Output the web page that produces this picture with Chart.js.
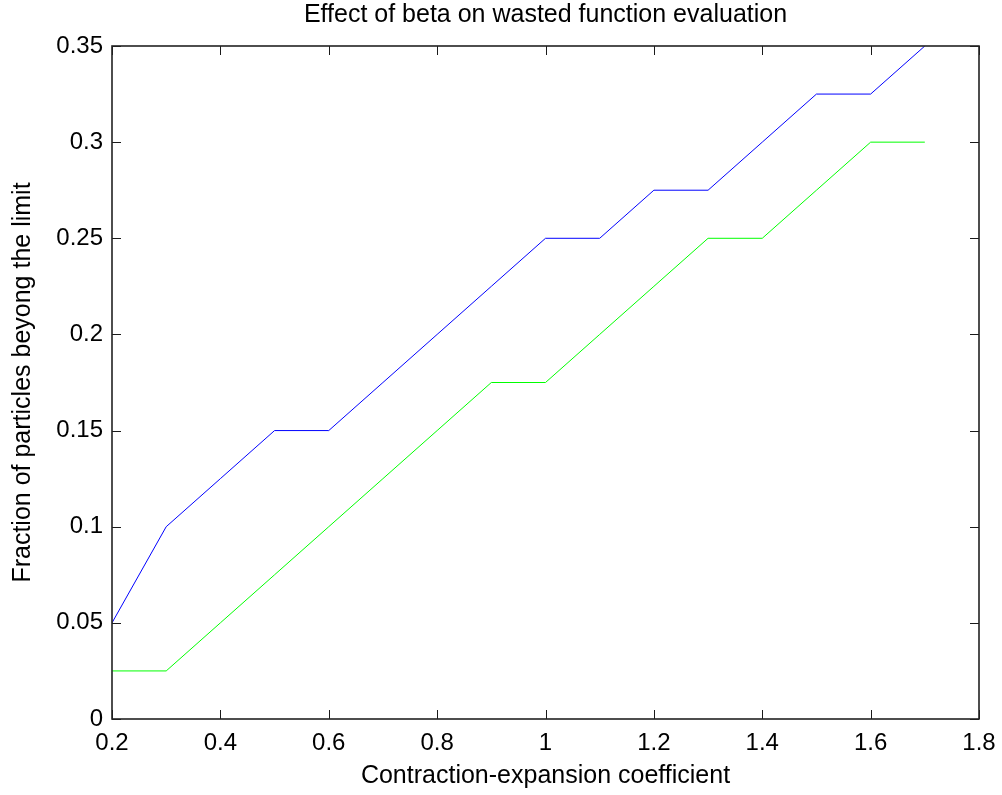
<!DOCTYPE html>
<html>
<head>
<meta charset="utf-8">
<title>Effect of beta on wasted function evaluation</title>
<script src="https://cdn.jsdelivr.net/npm/chart.js@4/dist/chart.umd.min.js"></script>
<style>
  html, body { margin: 0; padding: 0; background: #ffffff; }
  #wrap { width: 1002px; height: 795px; position: relative; }
  canvas { display: block; }
</style>
</head>
<body>
<div id="wrap"><canvas id="chart" width="1002" height="795"></canvas></div>
<script>
// Contraction-expansion coefficient (beta) values
const beta = [0.2, 0.3, 0.4, 0.5, 0.6, 0.7, 0.8, 0.9, 1.0, 1.1, 1.2, 1.3, 1.4, 1.5, 1.6, 1.7];

// Fraction of particles beyond the limit, two runs
const blueFraction  = [0.05, 0.1, 0.125, 0.15, 0.15, 0.175, 0.2, 0.225, 0.25, 0.25, 0.275, 0.275, 0.3, 0.325, 0.325, 0.35];
const greenFraction = [0.025, 0.025, 0.05, 0.075, 0.1, 0.125, 0.15, 0.175, 0.175, 0.2, 0.225, 0.25, 0.25, 0.275, 0.3, 0.3];

// Axis tick values
const xTicks = [0.2, 0.4, 0.6, 0.8, 1.0, 1.2, 1.4, 1.6, 1.8];
const yTicks = [0, 0.05, 0.1, 0.15, 0.2, 0.25, 0.3, 0.35];

const toPoints = (xs, ys) => xs.map((x, i) => ({ x: x, y: ys[i] }));

const FONT = "'Liberation Sans', Arial, Helvetica, sans-serif";
const TICK_LEN = 9;

// Box around the plot area with inward tick marks on all four sides
const boxTicks = {
  id: 'boxTicks',
  afterDatasetsDraw(chart) {
    const { ctx, chartArea: a, scales } = chart;
    ctx.save();
    ctx.strokeStyle = '#1a1a1a';
    ctx.lineWidth = 1;
    ctx.beginPath();
    scales.x.ticks.forEach(t => {
      const px = Math.round(scales.x.getPixelForValue(t.value)) + 0.5;
      ctx.moveTo(px, a.bottom); ctx.lineTo(px, a.bottom - TICK_LEN);
      ctx.moveTo(px, a.top);    ctx.lineTo(px, a.top + TICK_LEN);
    });
    scales.y.ticks.forEach(t => {
      const py = Math.round(scales.y.getPixelForValue(t.value)) + 0.5;
      ctx.moveTo(a.left, py);  ctx.lineTo(a.left + TICK_LEN, py);
      ctx.moveTo(a.right, py); ctx.lineTo(a.right - TICK_LEN, py);
    });
    ctx.stroke();
    ctx.lineWidth = 1.6;
    ctx.strokeStyle = '#222222';
    ctx.strokeRect(a.left, a.top, a.right - a.left, a.bottom - a.top);
    ctx.restore();
  }
};

new Chart(document.getElementById('chart'), {
  type: 'line',
  data: {
    datasets: [
      {
        label: 'blue',
        data: toPoints(beta, blueFraction),
        borderColor: '#0000ff',
        borderWidth: 1,
        pointRadius: 0,
        tension: 0,
        fill: false
      },
      {
        label: 'green',
        data: toPoints(beta, greenFraction),
        borderColor: '#00ff00',
        borderWidth: 1,
        pointRadius: 0,
        tension: 0,
        fill: false
      }
    ]
  },
  options: {
    responsive: false,
    animation: false,
    devicePixelRatio: 1,
    layout: { padding: { left: 0, right: 23, top: 0, bottom: 0 } },
    plugins: {
      legend: { display: false },
      tooltip: { enabled: false },
      title: {
        display: true,
        fullSize: false,
        text: 'Effect of beta on wasted function evaluation',
        color: '#000000',
        font: { family: FONT, size: 25, weight: 'normal', lineHeight: 1.2 },
        padding: { top: 0, bottom: 16 }
      }
    },
    scales: {
      x: {
        type: 'linear',
        min: 0.2,
        max: 1.8,
        afterBuildTicks: s => { s.ticks = xTicks.map(v => ({ value: v })); },
        afterFit: s => { s.height = 76; s.paddingLeft = 0; s.paddingRight = 0; },
        grid: { display: false, drawTicks: false },
        border: { display: false },
        ticks: {
          color: '#000000',
          padding: 10,
          maxRotation: 0,
          font: { family: FONT, size: 24 },
          callback: v => String(v)
        },
        title: {
          display: true,
          text: 'Contraction-expansion coefficient',
          color: '#000000',
          font: { family: FONT, size: 25, lineHeight: 1.2 },
          padding: { top: 0, bottom: 4 }
        }
      },
      y: {
        type: 'linear',
        min: 0,
        max: 0.35,
        afterBuildTicks: s => { s.ticks = yTicks.map(v => ({ value: v })); },
        afterFit: s => { s.width = 112; s.paddingTop = 0; s.paddingBottom = 0; },
        grid: { display: false, drawTicks: false },
        border: { display: false },
        ticks: {
          color: '#000000',
          padding: 9,
          font: { family: FONT, size: 24 },
          callback: v => String(v)
        },
        title: {
          display: true,
          text: 'Fraction of particles beyong the limit',
          color: '#000000',
          font: { family: FONT, size: 25, lineHeight: 1.2 },
          padding: { top: 8, bottom: 0 }
        }
      }
    }
  },
  plugins: [boxTicks]
});
</script>
</body>
</html>
